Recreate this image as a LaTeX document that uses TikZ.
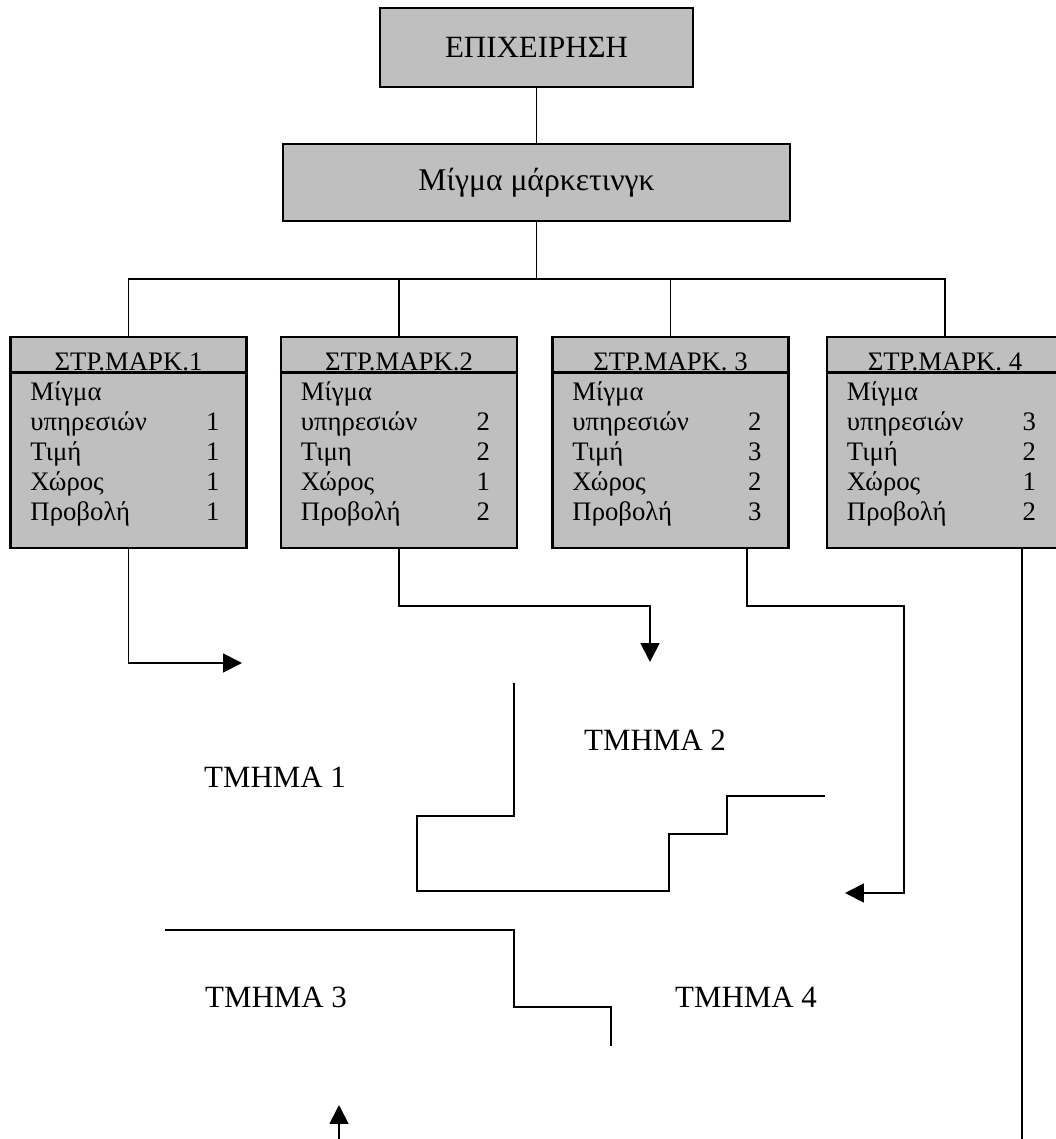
\documentclass[tikz,border=0pt]{standalone}
\usepackage{fontspec}
\setmainfont{Liberation Serif}
\usepackage{tikz}
\usetikzlibrary{arrows.meta,positioning,calc}
% one strategy column: name, x, title, word for price, four values
\newcommand{\stratcol}[8]{%
  \node[stratbox] (#1) at (#2,442.5) {};
  \draw[box] ($(#1.north west)+(0,37)$) -- ($(#1.north east)+(0,37)$);
  \node[headtxt,anchor=base] (#1h) at ($(#1.north)+(0,35)$) {#3};
  \node[bodytxt,anchor=base west] (#1b) at ($(#1.north west)+(21,65)$)
    {\begin{tabular*}{4.725cm}[t]{@{\extracolsep{\fill}}lr@{}}
     Μίγμα & \\ υπηρεσιών & #5\\ #4 & #6\\ Χώρος & #7\\ Προβολή & #8
     \end{tabular*}};
}

\begin{document}
\begin{tikzpicture}[
  x=0.025cm, y=-0.025cm,
  box/.style={draw,line width=1.8pt,fill=black!25,inner sep=0pt},
  firmbox/.style={box,minimum width=7.825cm,minimum height=1.975cm,font=\fontsize{22}{26}\selectfont},
  mixbox/.style={box,minimum width=12.675cm,minimum height=1.925cm,font=\fontsize{22.5}{26}\selectfont},
  stratbox/.style={box,minimum width=5.9cm,minimum height=5.275cm},
  headtxt/.style={inner sep=0pt,font=\fontsize{19}{22}\selectfont},
  bodytxt/.style={inner sep=0pt,font=\fontsize{19}{21.34}\selectfont},
  seglabel/.style={inner sep=0pt,anchor=base,font=\fontsize{22}{26}\selectfont},
  link/.style={line width=1.3pt},
  arr/.style={link,-{Triangle[length=13.5pt,width=13.5pt]}},
  border/.style={line width=1.3pt}
]
\useasboundingbox (0,0) rectangle (1056,1139);
\clip (0,0) rectangle (1056,1139);

\node[firmbox] (firm) at (536.5,47.5) {ΕΠΙΧΕΙΡΗΣΗ};
\node[mixbox] (mix) at (536.5,182.5) {Μίγμα μάρκετινγκ};
\coordinate (bus) at (536.5,279);

\stratcol{s1}{128.5}{ΣΤΡ.ΜΑΡΚ.1}{Τιμή}{1}{1}{1}{1}
\stratcol{s2}{399}{ΣΤΡ.ΜΑΡΚ.2}{Τιμη}{2}{2}{1}{2}
\stratcol{s3}{670.5}{ΣΤΡ.ΜΑΡΚ. 3}{Τιμή}{2}{3}{2}{3}
\stratcol{s4}{945}{ΣΤΡ.ΜΑΡΚ. 4}{Τιμή}{3}{2}{1}{2}

\draw[link] (firm) -- (mix);
\draw[link] (mix) -- (bus);
\foreach \s in {s1,s2,s3,s4}
  \draw[link] (bus) -| (\s.north);

% where each strategy goes
\coordinate (t1) at (242,663);
\coordinate (t2) at (650,662);
\coordinate (t3) at (845,893);
\coordinate (e4) at (1022,1139);
\coordinate (u0) at (339,1139);
\coordinate (u1) at (339,1105);
\draw[arr] (s1.south) |- (t1);
\draw[arr] (s2.south) -- ++(0,57) -| (t2);
\draw[arr] ($(s3.south)+(76.5,0)$) -- ++(0,57) -- ++(157,0) |- (t3);
\draw[link] (s4.south -| e4) -- (e4);
\draw[arr] (u0) -- (u1);

% segment borders
\draw[border] (514,683) -- (514,816) -- (417,816) -- (417,891) -- (669,891)
  -- (669,834) -- (727,834) -- (727,796) -- (825,796);
\draw[border] (165,930) -- (514,930) -- (514,1007) -- (611,1007) -- (611,1046);

\node[seglabel] (seg1) at (275,787) {ΤΜΗΜΑ 1};
\node[seglabel] (seg2) at (655,750) {ΤΜΗΜΑ 2};
\node[seglabel] (seg3) at (276,1007) {ΤΜΗΜΑ 3};
\node[seglabel] (seg4) at (746,1007) {ΤΜΗΜΑ 4};
\end{tikzpicture}
\end{document}
